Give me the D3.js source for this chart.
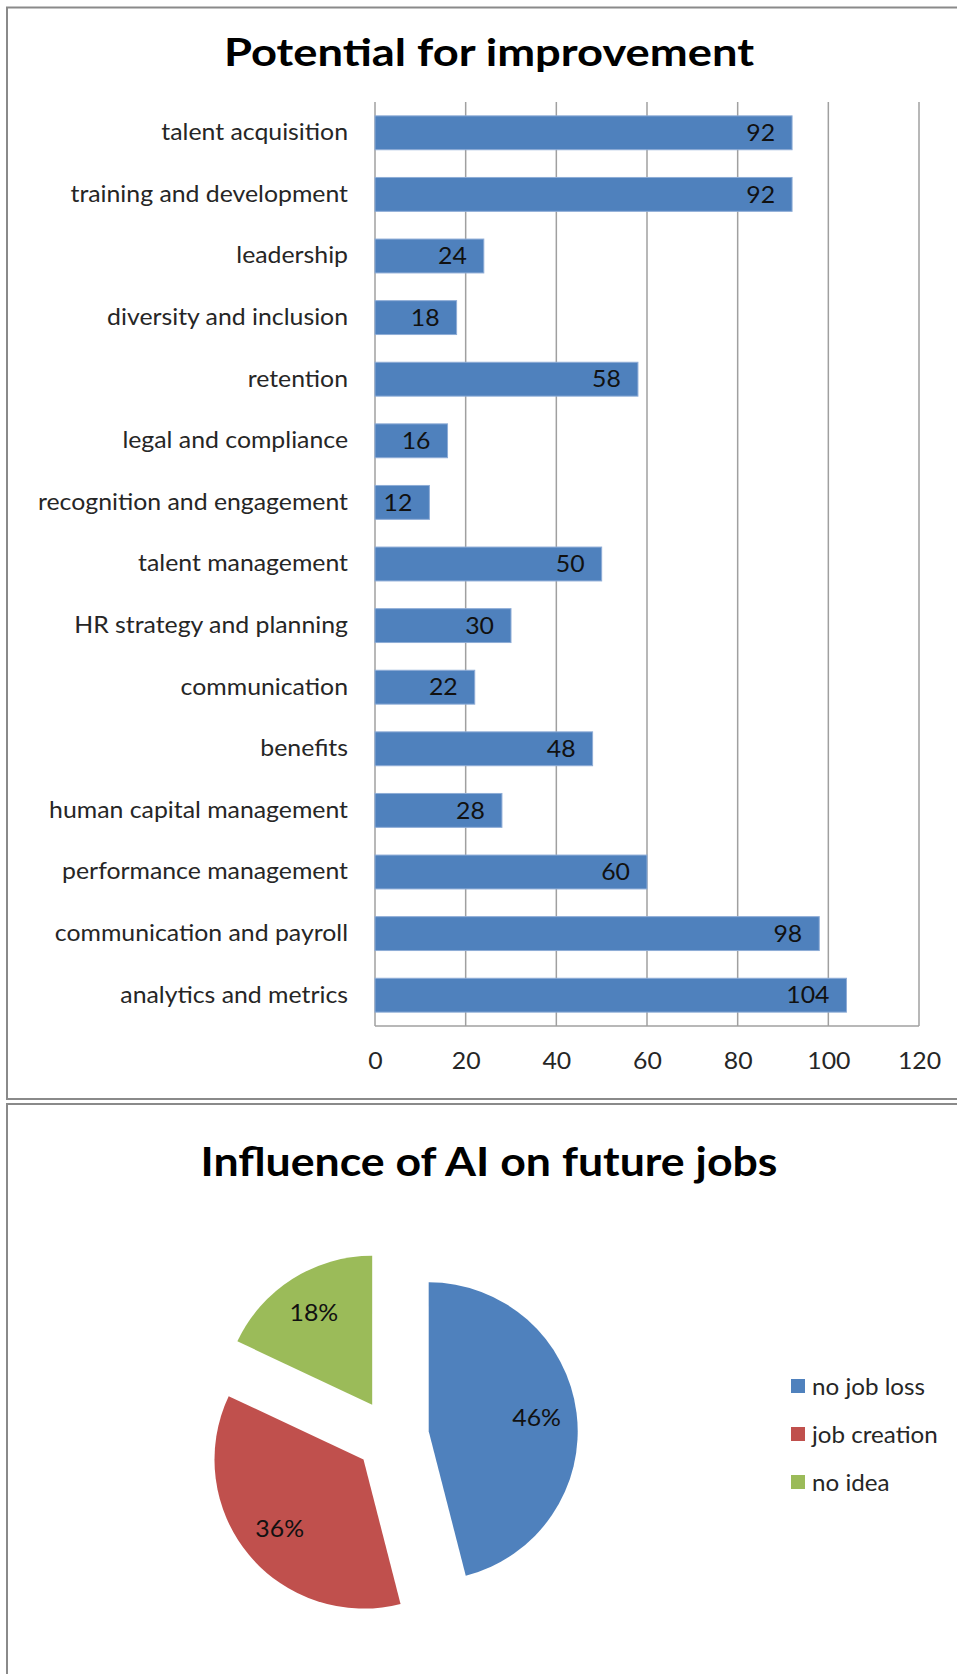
<!DOCTYPE html>
<html>
<head>
<meta charset="utf-8">
<script src="https://cdn.jsdelivr.net/npm/d3@7"></script>
<style>
  body { margin: 0; background: #fff; }
  svg text { font-family: Lato, "Open Sans", sans-serif; }
</style>
</head>
<body>
<svg id="chart" width="957" height="1674"></svg>
<script>
// Bar chart: potential for improvement per HR area
const categories = [
  "talent acquisition", "training and development", "leadership",
  "diversity and inclusion", "retention", "legal and compliance",
  "recognition and engagement", "talent management", "HR strategy and planning",
  "communication", "benefits", "human capital management",
  "performance management", "communication and payroll", "analytics and metrics"
];
const values = [92, 92, 24, 18, 58, 16, 12, 50, 30, 22, 48, 28, 60, 98, 104];
const tickValues = [0, 20, 40, 60, 80, 100, 120];

// Pie chart: influence of AI on future jobs
const pieNames = ["no job loss", "job creation", "no idea"];
const pieShares = [46, 36, 18];
const pieColors = ["#4F81BD", "#C0504D", "#9BBB59"];

const svg = d3.select("#chart");

// squeeze a text's glyphs horizontally by factor k
function condense(sel, k) {
  sel.each(function () {
    const w = this.getComputedTextLength();
    this.setAttribute("textLength", (w * k).toFixed(1));
    this.setAttribute("lengthAdjust", "spacingAndGlyphs");
  });
}
function fitWidth(sel, width) {
  sel.attr("textLength", width).attr("lengthAdjust", "spacingAndGlyphs");
}
// factor that brings the text equal to `ref` to width `target`
function factorFor(sel, ref, target) {
  let w = 0;
  sel.each(function (d) { if (d === ref) w = this.getComputedTextLength(); });
  return w ? target / w : 1;
}

// chart frames
svg.append("rect").attr("x", 7).attr("y", 7.5).attr("width", 960).attr("height", 1091.5)
  .attr("fill", "none").attr("stroke", "#8a8a8a").attr("stroke-width", 2);
svg.append("rect").attr("x", 7).attr("y", 1104).attr("width", 960).attr("height", 600)
  .attr("fill", "none").attr("stroke", "#8a8a8a").attr("stroke-width", 2);

// ---------- bar chart ----------
const plot = { left: 375, right: 919, top: 102, bottom: 1026 };
const x = d3.scaleLinear().domain([0, 120]).range([plot.left, plot.right]);
const y = d3.scaleBand().domain(categories).range([plot.top, plot.bottom]).paddingInner(0.45).paddingOuter(0.225);

const title1 = svg.append("text").attr("x", 489).attr("y", 66).attr("text-anchor", "middle")
  .attr("font-size", 38).attr("font-weight", "bold").attr("fill", "#000")
  .text("Potential for improvement");
fitWidth(title1, 530);

// vertical gridlines
svg.append("g").selectAll("line").data(tickValues).join("line")
  .attr("x1", d => x(d)).attr("x2", d => x(d))
  .attr("y1", plot.top).attr("y2", plot.bottom)
  .attr("stroke", "#a0a0a0").attr("stroke-width", 1.5);
// value axis baseline
svg.append("line").attr("x1", plot.left).attr("x2", plot.right)
  .attr("y1", plot.bottom).attr("y2", plot.bottom)
  .attr("stroke", "#a0a0a0").attr("stroke-width", 1.5);

// bottom axis tick labels
const xAxis = svg.append("g").attr("transform", `translate(0,${plot.bottom})`)
  .call(d3.axisBottom(x).tickValues(tickValues).tickSize(0).tickPadding(27));
xAxis.select(".domain").remove();
const tickText = xAxis.selectAll("text").attr("font-size", 23).attr("fill", "#262626")
  .attr("font-family", "Lato, sans-serif");

// category axis labels
const yAxis = svg.append("g").attr("transform", `translate(${plot.left},0)`)
  .call(d3.axisLeft(y).tickSize(0).tickPadding(27));
yAxis.select(".domain").remove();
const catText = yAxis.selectAll("text").attr("font-size", 23).attr("fill", "#262626")
  .attr("font-family", "Lato, sans-serif");

// bars
svg.append("g").selectAll("rect").data(values).join("rect")
  .attr("x", x(0))
  .attr("y", (d, i) => y(categories[i]))
  .attr("width", d => x(d) - x(0))
  .attr("height", y.bandwidth())
  .attr("fill", "#4F81BD")
  .attr("stroke", "#8EACD6").attr("stroke-width", 1);

// value labels inside bar ends
const valText = svg.append("g").selectAll("text").data(values).join("text")
  .attr("x", d => x(d) - 17)
  .attr("y", (d, i) => y(categories[i]) + y.bandwidth() / 2)
  .attr("dy", "0.36em")
  .attr("text-anchor", "end")
  .attr("font-size", 23).attr("fill", "#111")
  .text(d => d);

// common horizontal squeeze for the body text
const k = factorFor(catText, "recognition and engagement", 310);
condense(catText, k);
condense(tickText, k);
condense(valText, k);

// ---------- pie chart ----------
const title2 = svg.append("text").attr("x", 489).attr("y", 1176).attr("text-anchor", "middle")
  .attr("font-size", 40).attr("font-weight", "bold").attr("fill", "#000")
  .text("Influence of AI on future jobs");
fitWidth(title2, 577);

const center = [392, 1436];
const radius = 149;
const explode = 37;
const pie = d3.pie().sort(null).value(d => d);
const arcs = pie(pieShares);
const arc = d3.arc().innerRadius(0).outerRadius(radius);

const pg = svg.append("g").attr("transform", `translate(${center[0]},${center[1]})`);
const slice = pg.selectAll("g").data(arcs).join("g")
  .attr("transform", d => {
    const a = (d.startAngle + d.endAngle) / 2;
    return `translate(${explode * Math.sin(a)},${-explode * Math.cos(a)})`;
  });
slice.append("path").attr("d", arc).attr("fill", (d, i) => pieColors[i]);
const pctText = slice.append("text")
  .attr("x", d => 0.73 * radius * Math.sin((d.startAngle + d.endAngle) / 2))
  .attr("y", d => -0.73 * radius * Math.cos((d.startAngle + d.endAngle) / 2))
  .attr("dy", "0.36em").attr("text-anchor", "middle")
  .attr("font-size", 23).attr("fill", "#111")
  .text(d => d.data + "%");
condense(pctText, k);

// legend
const lg = svg.append("g").selectAll("g").data(pieNames).join("g")
  .attr("transform", (d, i) => `translate(791,${1379 + i * 48})`);
lg.append("rect").attr("width", 14).attr("height", 14).attr("fill", (d, i) => pieColors[i]);
const legText = lg.append("text").attr("x", 21).attr("y", 7).attr("dy", "0.36em")
  .attr("font-size", 24).attr("fill", "#262626").text(d => d);
condense(legText, factorFor(legText, "no job loss", 113));
</script>
</body>
</html>
